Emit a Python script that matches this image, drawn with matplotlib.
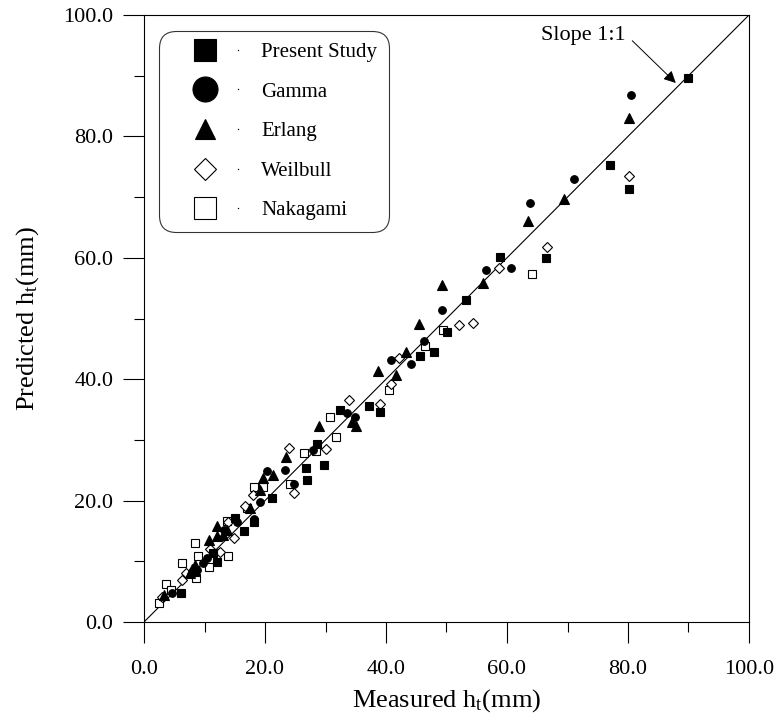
import matplotlib
matplotlib.use("Agg")
import matplotlib.pyplot as plt
from matplotlib.lines import Line2D
from matplotlib.legend_handler import HandlerBase
from matplotlib.ticker import MultipleLocator, FormatStrFormatter

plt.rcParams['font.family'] = ['Liberation Serif', 'DejaVu Serif']
plt.rcParams['mathtext.fontset'] = 'custom'
plt.rcParams['mathtext.rm'] = 'Liberation Serif'

# ---- data (measured, predicted) ----
present_x = [90.0, 77.0, 80.1, 66.4, 58.9, 53.3, 50.1, 47.9, 45.7, 39.0, 37.2, 32.4,
             28.6, 26.7, 29.8, 27.0, 21.2, 18.2, 15.0, 16.6, 11.4, 12.1, 8.4, 6.1]
present_y = [89.7, 75.3, 71.3, 59.9, 60.2, 53.0, 47.8, 44.5, 43.8, 34.6, 35.6, 34.9,
             29.3, 25.3, 25.9, 23.4, 20.4, 16.5, 17.1, 15.0, 11.4, 9.9, 8.3, 4.8]

gamma_x = [80.5, 71.0, 63.8, 56.5, 60.7, 49.2, 46.3, 44.2, 40.9, 33.5, 34.9, 28.0,
           23.3, 20.4, 24.8, 19.1, 18.2, 15.3, 13.2, 10.4, 9.8, 8.7, 4.7]
gamma_y = [86.9, 73.0, 69.1, 58.0, 58.3, 51.4, 46.3, 42.5, 43.2, 34.5, 33.8, 28.3,
           25.0, 24.8, 22.7, 19.7, 16.9, 16.5, 15.2, 10.5, 9.8, 8.6, 4.7]

erlang_x = [80.1, 69.4, 63.5, 56.1, 49.2, 45.5, 43.3, 41.7, 38.6, 34.3, 35.0, 29.0,
            23.5, 19.7, 21.4, 19.2, 17.5, 12.1, 13.8, 13.0, 12.1, 10.7, 8.4, 7.9, 7.6, 3.3]
erlang_y = [83.1, 69.7, 66.1, 55.8, 55.5, 49.1, 44.4, 40.7, 41.4, 33.0, 32.3, 32.3,
            27.2, 23.7, 24.2, 21.7, 18.7, 15.8, 15.2, 14.4, 14.1, 13.5, 9.4, 8.8, 8.0, 4.4]

weibull_x = [80.1, 66.6, 58.7, 52.0, 54.3, 42.2, 40.9, 39.0, 33.9, 23.9, 30.0, 24.8,
             18.0, 16.7, 13.9, 14.9, 10.9, 12.6, 6.9, 6.2, 2.9]
weibull_y = [73.5, 61.7, 58.4, 49.0, 49.2, 43.5, 39.2, 35.9, 36.6, 28.7, 28.5, 21.2,
             20.9, 19.1, 16.4, 13.9, 12.1, 11.6, 8.1, 6.9, 4.1]

nakagami_x = [64.2, 49.5, 46.4, 40.5, 30.7, 31.7, 28.4, 26.4, 24.1, 18.2, 19.6, 17.0,
              13.8, 8.4, 13.9, 9.0, 6.2, 10.7, 8.6, 3.6, 4.4, 2.5]
nakagami_y = [57.3, 48.1, 45.5, 38.2, 33.8, 30.5, 28.2, 27.9, 22.7, 22.3, 22.3, 18.7,
              16.7, 13.0, 10.9, 10.9, 9.7, 9.1, 7.2, 6.3, 5.3, 3.1]

series_names = ["Present Study", "Gamma", "Erlang", "Weilbull", "Nakagami"]

fig = plt.figure(figsize=(7.77, 7.2), dpi=100)
ax = fig.add_axes([144/777, 1 - 622/720, 605/777, 607/720])

ax.plot([0, 100], [0, 100], color='black', lw=0.8, zorder=1)

styles = [
    dict(marker='s', ms=6.0, mfc='black', mec='black'),
    dict(marker='o', ms=5.5, mfc='black', mec='black'),
    dict(marker='^', ms=6.5, mfc='black', mec='black'),
    dict(marker='D', ms=5.0, mfc='white', mec='black'),
    dict(marker='s', ms=6.0, mfc='white', mec='black'),
]
data = [(present_x, present_y), (gamma_x, gamma_y), (erlang_x, erlang_y),
        (weibull_x, weibull_y), (nakagami_x, nakagami_y)]
zorders = [5, 5, 5, 4, 3]
for (xs, ys), st, z in zip(data, styles, zorders):
    ax.plot(xs, ys, ls='none', mew=0.8, zorder=z, **st)

ax.set_xlim(0, 100)
ax.set_ylim(0, 100)
for a in (ax.xaxis, ax.yaxis):
    a.set_major_locator(MultipleLocator(20))
    a.set_minor_locator(MultipleLocator(10))
    a.set_major_formatter(FormatStrFormatter('%.1f'))
ax.tick_params(which='major', direction='out', length=15, width=0.8, labelsize=16, pad=7,
               top=False, right=False)
ax.tick_params(axis='x', which='major', pad=12)
ax.tick_params(which='minor', direction='out', length=7, width=0.8, top=False, right=False)
for s in ax.spines.values():
    s.set_linewidth(0.8)

ax.set_xlabel(r"Measured h$\mathregular{_t}$(mm)", fontsize=19, labelpad=6)
ax.set_ylabel(r"Predicted h$\mathregular{_t}$(mm)", fontsize=19, labelpad=16)

ax.annotate("Slope 1:1", xy=(87.9, 88.8), xytext=(65.6, 96.7), fontsize=16,
            ha='left', va='center',
            arrowprops=dict(arrowstyle='-|>', color='black', lw=0.7, mutation_scale=18,
                            shrinkA=0, shrinkB=0, patchA=None,
                            relpos=(1.08, 0.2)))


class MarkerDotHandler(HandlerBase):
    def __init__(self, xm, xd, **kw):
        super().__init__(**kw)
        self.xm = xm
        self.xd = xd

    def create_artists(self, legend, orig_handle, xdescent, ydescent, width, height,
                       fontsize, trans):
        y = height / 2 - ydescent
        m = Line2D([self.xm - xdescent], [y], ls='none', marker=orig_handle.get_marker(),
                   ms=orig_handle.get_markersize(), mfc=orig_handle.get_markerfacecolor(),
                   mec=orig_handle.get_markeredgecolor(), mew=orig_handle.get_markeredgewidth())
        d = Line2D([self.xd - xdescent], [y], ls='none', marker='o', ms=1.0,
                   mfc='black', mec='black', mew=0)
        m.set_transform(trans)
        d.set_transform(trans)
        return [m, d]


leg_sizes = [16.5, 18.0, 14.0, 11.2, 16.5]
handles = []
for st, s in zip(styles, leg_sizes):
    handles.append(Line2D([], [], ls='none', marker=st['marker'], ms=s,
                          mfc=st['mfc'], mec=st['mec'], mew=0.8))
h = MarkerDotHandler(xm=24.8, xd=48.6)
leg = ax.legend(handles, series_names, loc='upper left',
                bbox_to_anchor=(15/605, (622-31)/607), borderaxespad=0,
                fontsize=15, handlelength=3.55, handletextpad=0.8, borderpad=0.55,
                labelspacing=0.96, frameon=True, fancybox=True,
                handler_map={Line2D: h})
leg.get_frame().set_edgecolor('black')
leg.get_frame().set_linewidth(0.8)
leg.get_frame().set_boxstyle('round', pad=0, rounding_size=0.8)

fig.savefig("out.png", dpi=100)
